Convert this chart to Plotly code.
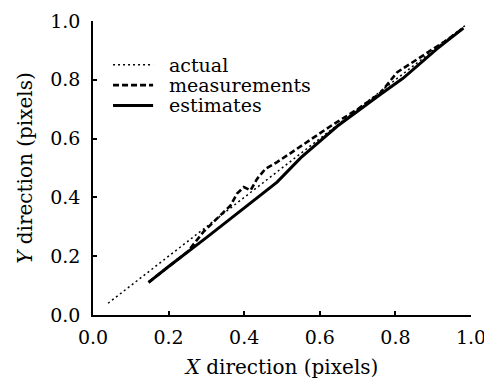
import plotly.graph_objects as go

# Data
actual_x = [0.04, 0.99]
actual_y = [0.04, 0.99]

meas_x = [0.147, 0.20, 0.25, 0.293, 0.346, 0.364, 0.381, 0.399, 0.417, 0.434, 0.456, 0.487, 0.522, 0.575, 0.628, 0.70, 0.76, 0.805, 0.84, 0.875, 0.893, 0.93, 0.98]
meas_y = [0.111, 0.163, 0.215, 0.284, 0.351, 0.373, 0.413, 0.435, 0.424, 0.463, 0.497, 0.52, 0.55, 0.597, 0.642, 0.70, 0.755, 0.826, 0.855, 0.883, 0.90, 0.93, 0.976]

est_x = [0.147, 0.20, 0.30, 0.40, 0.487, 0.55, 0.646, 0.76, 0.82, 0.91, 0.98]
est_y = [0.111, 0.165, 0.263, 0.363, 0.452, 0.535, 0.642, 0.75, 0.805, 0.905, 0.976]

x_ticks = [0.0, 0.2, 0.4, 0.6, 0.8, 1.0]
y_ticks = [0.0, 0.2, 0.4, 0.6, 0.8, 1.0]

series_names = ["actual", "measurements", "estimates"]

FONT = "DejaVu Serif"
styles = [
    dict(color="black", width=1.5, dash="2px,3px"),
    dict(color="black", width=2.6, dash="6px,3px"),
    dict(color="black", width=3),
]

fig = go.Figure()
for name, xs, ys, st in zip(series_names, [actual_x, meas_x, est_x],
                            [actual_y, meas_y, est_y], styles):
    fig.add_trace(go.Scatter(x=xs, y=ys, mode="lines", name=name,
                             line=st, showlegend=False))

# Compact legend (text as annotations, samples as short paper-space lines)
leg_rows_y = [0.851, 0.782, 0.713]
for name, st, yy in zip(series_names, styles, leg_rows_y):
    fig.add_shape(type="line", xref="paper", yref="paper",
                  x0=0.053, x1=0.159, y0=yy, y1=yy,
                  line=dict(color=st["color"], width=st["width"],
                            dash=st.get("dash", "solid")))
    fig.add_annotation(text=name, xref="paper", yref="paper", x=0.195, y=yy,
                       xanchor="left", yanchor="middle", showarrow=False,
                       font=dict(family=FONT, size=19, color="black"))

axis_common = dict(
    range=[0, 1], showgrid=False, zeroline=False, showline=True,
    linecolor="black", linewidth=1.5, ticks="inside", ticklen=4,
    tickcolor="black", tickwidth=1.5, tickformat=".1f", automargin=False,
    tickfont=dict(family=FONT, size=19, color="black"),
)

fig.update_layout(
    width=492, height=383,
    margin=dict(l=85, r=29, t=13, b=76),
    paper_bgcolor="white", plot_bgcolor="white",
    font=dict(family=FONT, size=20, color="black"),
    xaxis=dict(**axis_common, tickvals=x_ticks, ticklabelstandoff=4,
               title=dict(text="<i>X</i> direction (pixels)", standoff=13,
                          font=dict(family=FONT, size=20))),
    yaxis=dict(**axis_common, tickvals=y_ticks, ticklabelstandoff=7,
               title=dict(text="<i>Y</i> direction (pixels)", standoff=12,
                          font=dict(family=FONT, size=20))),
    showlegend=False,
)

fig.write_html("out.html")
